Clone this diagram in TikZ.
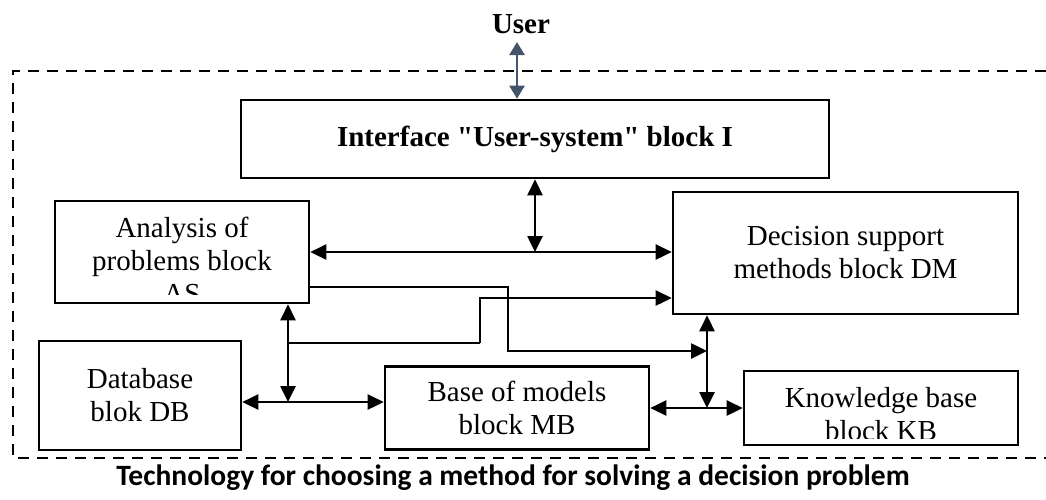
\documentclass[tikz,border=0pt]{standalone}
\usepackage{fontspec}
\setmainfont{Liberation Serif}
\newfontfamily\capfont{Carlito}
\usepackage{tikz}
\usetikzlibrary{arrows.meta, positioning, calc}
\definecolor{UserSlate}{RGB}{68, 84, 106}

\tikzset{
  blk/.style={draw, line width=2.6pt, inner sep=0pt, align=center,
    font=\fontsize{29}{33}\selectfont},
  blktext/.style={inner sep=0pt, align=center, font=\fontsize{29}{33}\selectfont},
  link/.style={line width=2.6pt},
  both/.style={link, {Triangle[length=16pt,width=15pt]}-{Triangle[length=16pt,width=15pt]}},
  into/.style={link, -{Triangle[length=16pt,width=15pt]}},
  userarr/.style={UserSlate, line width=2.4pt,
    {Triangle[length=13pt,width=15pt]}-{Triangle[length=13pt,width=15pt]}}
}

\begin{document}
\begin{tikzpicture}[x=1pt,y=-1pt]
  \path[use as bounding box] (0,0) rectangle (1046,499);

  % Outer dashed frame
  \draw[line width=2.6pt, dash pattern=on 11pt off 8pt] (1046,71) -- (13,71) -- (13,458) -- (1046,458);

  % User
  \node[font=\fontsize{29}{33}\selectfont\bfseries, inner sep=0pt, anchor=base] (user) at (521,33) {User};

  % Blocks
  \node[blk, minimum width=588, minimum height=78, font=\fontsize{29}{33}\selectfont\bfseries]
    (iface) at (535,139) {Interface \textquotedbl User-system\textquotedbl\ block I};
  \node[blk, minimum width=254, minimum height=102] (as) at (182,252) {};
  \node[blk, minimum width=345, minimum height=122] (dm) at (845.5,253) {Decision support\\methods block DM};
  \node[blk, minimum width=202, minimum height=109] (db) at (140,395.5) {Database\\blok DB};
  \node[blk, minimum width=264, minimum height=83] (mb) at (517,408) {Base of models\\block MB};
  \node[blk, minimum width=274, minimum height=74] (kb) at (881,408) {};

  % texts cut off by their boxes
  \begin{scope}
    \clip ($(as.north west)+(4,4)$) rectangle ($(as.south east)+(-4,-10)$);
    \node[blktext] (astext) at (182,260) {Analysis of\\problems block\\AS};
  \end{scope}
  \begin{scope}
    \clip ($(kb.north west)+(4,4)$) rectangle ($(kb.south east)+(-4,-8)$);
    \node[blktext] (kbtext) at (881,414) {Knowledge base\\block KB};
  \end{scope}

  % Junctions and bends
  \coordinate (ufoot) at (517,42);
  \coordinate (jas) at (iface.south |- as.east);
  \coordinate (spine) at (707,408);
  \coordinate (asout) at ($(as.east)+(0,35)$);
  \coordinate (bend1) at (508,351);
  \coordinate (dbj) at (288,402);
  \coordinate (bend2) at (480,343);

  % Connectors
  \draw[userarr] (ufoot) -- (ufoot |- iface.north);
  \draw[both] (iface.south) -- (jas);
  \draw[both] (as.east) -- (as.east -| dm.west);
  \draw[both] (mb.east) -- (kb.west);
  \draw[both] (spine |- dm.south) -- (spine);
  \draw[into] (asout) -| (bend1) -- (bend1 -| spine);
  \draw[both] (db.east |- dbj) -- (mb.west |- dbj);
  \draw[both] (dbj |- as.south) -- (dbj);
  \draw[link] (dbj |- bend2) -- (bend2);
  \draw[into] (bend2) |- (dm.west |- 0,298);

  % Caption
  \node[font=\capfont\bfseries\fontsize{29.5}{34}\selectfont, inner sep=0pt] (caption) at (513,478)
    {Technology for choosing a method for solving a decision problem};
\end{tikzpicture}
\end{document}
